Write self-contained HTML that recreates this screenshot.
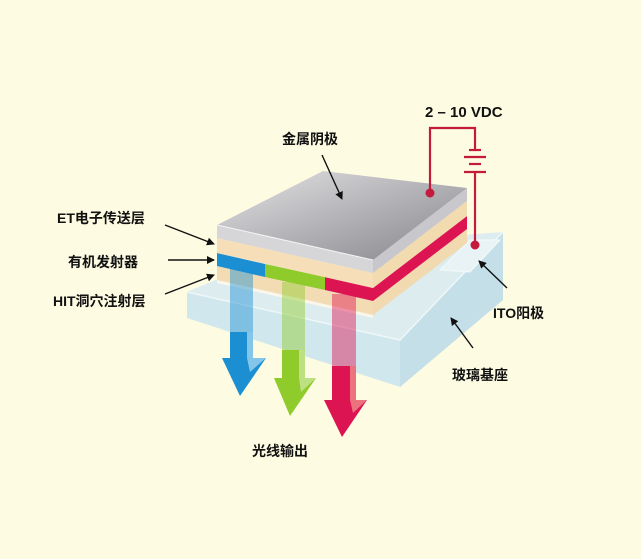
<!DOCTYPE html>
<html><head><meta charset="utf-8"><style>
html,body{margin:0;padding:0;background:#fdfbe2;}
svg{display:block;}
text{font-family:"Liberation Sans","Noto Sans CJK SC",sans-serif;font-weight:bold;fill:#111;}
</style></head><body>
<svg width="641" height="559" viewBox="0 0 641 559" xmlns="http://www.w3.org/2000/svg">
<defs>
<linearGradient id="top" x1="0" y1="0" x2="1" y2="1">
<stop offset="0" stop-color="#e4e4e6"/><stop offset="0.5" stop-color="#b4b4b8"/><stop offset="1" stop-color="#86868a"/></linearGradient>
<marker id="ah" markerWidth="8" markerHeight="8" refX="7" refY="4" orient="auto" markerUnits="userSpaceOnUse"><path d="M0,0 L8,4 L0,8 z" fill="#111"/></marker>
</defs>
<rect width="641" height="559" fill="#fdfbe2"/>
<!-- glass -->
<polygon points="187,292 290,248 503,232 400,340" fill="#dcecef"/>
<polygon points="187,292 400,340 400,387 187,318" fill="#cfe6ee" opacity="0.95"/>
<polygon points="400,340 503,232 503,300 400,387" fill="#c4dfe8"/>
<polyline points="187,292 400,340 503,232" fill="none" stroke="#eef7f8" stroke-width="1.5"/>
<!-- ITO pad -->
<polygon points="440,270 470,240 500,240 470,272" fill="#e9f3f5" stroke="#f4fafa"/>
<!-- stack: HIT -->
<polygon points="217,266 373,301 373,315 217,280" fill="#f3dcb4"/>
<polygon points="373,301 467,229 467,243 373,315" fill="#f1d9b0"/>
<polygon points="217,280 373,315 373,318 217,283" fill="#fbf6ea"/>
<!-- emitter -->
<polygon points="217,253 265,264 265,277 217,266" fill="#1b8fd2"/>
<polygon points="265,264 325,277 325,290 265,277" fill="#8fcb2a"/>
<polygon points="325,277 373,288 373,301 325,290" fill="#dd1452"/>
<polygon points="373,288 467,216 467,229 373,301" fill="#dd1452"/>
<!-- ET -->
<polygon points="217,238 373,273 373,288 217,253" fill="#f6dfb8"/>
<polygon points="373,273 467,201 467,216 373,288" fill="#f3dbb0"/>
<!-- cathode -->
<polygon points="217,225 373,260 373,273 217,238" fill="#d6d6d8"/>
<polygon points="373,260 467,188 467,201 373,273" fill="#c8c8cc"/>
<polygon points="217,225 323,171 467,188 373,260" fill="url(#top)"/>
<line x1="217" y1="225" x2="373" y2="260" stroke="#f4f4f4" stroke-width="1"/>
<!-- arrows -->
<g opacity="0.45">
<rect x="230" y="268" width="23" height="92" fill="#1b8fd2"/>
<rect x="282" y="282" width="23" height="98" fill="#8fcb2a"/>
<rect x="332" y="294" width="24" height="108" fill="#dd1452"/>
</g>
<polygon points="230,332 253,332 253,358 266,358 240,396 222,358 230,358" fill="#1b8fd2"/>
<polygon points="247,332 253,332 253,358 266,358 250,372 247,358" fill="#9fd3f0" opacity="0.8"/>
<polygon points="282,350 305,350 305,378 316,378 290,416 274,378 282,378" fill="#8fcb2a"/>
<polygon points="299,350 305,350 305,378 316,378 301,392 299,378" fill="#c8e59a" opacity="0.8"/>
<polygon points="332,366 356,366 356,400 367,400 342,437 324,400 332,400" fill="#dd1452"/>
<polygon points="350,366 356,366 356,400 367,400 353,413 350,400" fill="#f08a8a" opacity="0.8"/>
<!-- wire -->
<g stroke="#c41a3c" stroke-width="2.2" fill="none">
<polyline points="430,193 430,128 475,128 475,150"/>
<line x1="469" y1="150" x2="481" y2="150"/>
<line x1="464" y1="157" x2="486" y2="157"/>
<line x1="469" y1="164" x2="481" y2="164"/>
<line x1="464" y1="172" x2="486" y2="172"/>
<line x1="475" y1="172" x2="475" y2="245"/>
</g>
<circle cx="430" cy="193" r="4.5" fill="#c41a3c"/>
<circle cx="475" cy="245" r="4.5" fill="#c41a3c"/>
<!-- label arrows -->
<g stroke="#111" stroke-width="1.4" marker-end="url(#ah)">
<line x1="322" y1="155" x2="342" y2="199"/>
<line x1="165" y1="225" x2="214" y2="244"/>
<line x1="168" y1="260" x2="214" y2="260"/>
<line x1="165" y1="294" x2="214" y2="275"/>
<line x1="507" y1="288" x2="479" y2="261"/>
<line x1="473" y1="348" x2="451" y2="318"/>
</g>
<!-- labels -->
<text x="282" y="144" font-size="14">金属阴极</text>
<text x="425" y="117" font-size="15">2 – 10 VDC</text>
<text x="57" y="223" font-size="14">ET电子传送层</text>
<text x="68" y="267" font-size="14">有机发射器</text>
<text x="53" y="306" font-size="14">HIT洞穴注射层</text>
<text x="493" y="318" font-size="14">ITO阳极</text>
<text x="452" y="380" font-size="14">玻璃基座</text>
<text x="252" y="456" font-size="14">光线输出</text>
</svg>
</body></html>
